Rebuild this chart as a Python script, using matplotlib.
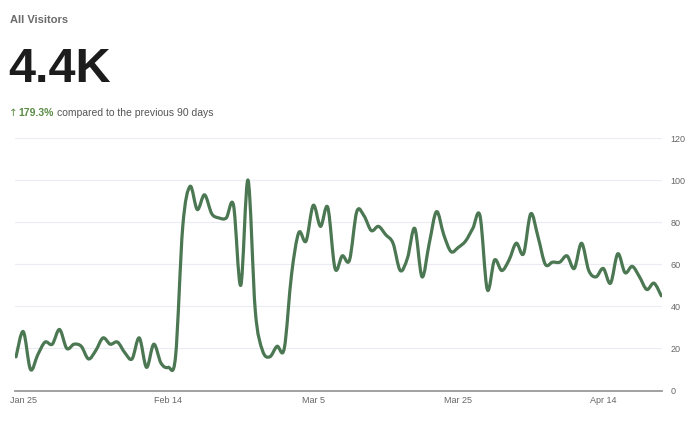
"""Visitors card: headline number plus a smoothed daily visitors line."""

import datetime as dt

import matplotlib

matplotlib.use("Agg")
import matplotlib.dates as mdates
import matplotlib.pyplot as plt
import numpy as np
from matplotlib.patches import PathPatch
from matplotlib.path import Path

plt.rcParams["font.family"] = ["Liberation Sans", "DejaVu Sans"]

START = dt.date(2024, 1, 24)
VISITORS = [
    16, 28, 10, 17, 23, 22, 29, 20, 22, 21,
    15, 19, 25, 22, 23, 18, 15, 25, 11, 22,
    13, 11, 16, 78, 97, 86, 93, 84, 82, 82,
    88, 50, 100, 38, 19, 16, 21, 20, 55, 75,
    71, 88, 78, 87, 58, 64, 62, 85, 83, 76,
    78, 74, 70, 57, 63, 77, 54, 70, 85, 74,
    66, 68, 71, 77, 83, 48, 62, 57, 62, 70,
    65, 84, 73, 60, 61, 61, 64, 58, 70, 57,
    54, 58, 51, 65, 56, 59, 54, 48, 51, 45,
]
TICK_DATES = [dt.date(2024, 1, 25), dt.date(2024, 2, 14), dt.date(2024, 3, 5),
              dt.date(2024, 3, 25), dt.date(2024, 4, 14)]
Y_TICKS = [0, 20, 40, 60, 80, 100, 120]
TITLE = "All Visitors"
TOTAL = "4.4K"
ARROW = "↑"
CHANGE = "179.3%"
CHANGE_NOTE = "compared to the previous 90 days"

LINE_COLOR = "#4b7752"
GREEN_TEXT = "#5a8a45"


def _spline_path(x: np.ndarray, y: np.ndarray) -> Path:
    # Catmull-Rom segments written as cubic Beziers, like a chart "spline" series.
    n = len(x)
    verts = [(x[0], y[0])]
    codes = [Path.MOVETO]
    for i in range(n - 1):
        x0, y0 = (x[i - 1], y[i - 1]) if i > 0 else (x[i], y[i])
        x3, y3 = (x[i + 2], y[i + 2]) if i + 2 < n else (x[i + 1], y[i + 1])
        c1 = (x[i] + (x[i + 1] - x0) / 6, y[i] + (y[i + 1] - y0) / 6)
        c2 = (x[i + 1] - (x3 - x[i]) / 6, y[i + 1] - (y3 - y[i]) / 6)
        verts += [c1, c2, (x[i + 1], y[i + 1])]
        codes += [Path.CURVE4] * 3
    return Path(verts, codes)


def main() -> int:
    fig = plt.figure(figsize=(7.0, 4.26), dpi=100)
    ax = fig.add_axes([15 / 700, 1 - 390.5 / 426, 647 / 700, 252.5 / 426])

    dates = [START + dt.timedelta(days=i) for i in range(len(VISITORS))]
    xs = mdates.date2num(dates)
    ys = np.asarray(VISITORS, dtype=float)

    patch = PathPatch(_spline_path(xs, ys), facecolor="none", edgecolor=LINE_COLOR,
                      linewidth=2.3, capstyle="round", joinstyle="round", zorder=3)
    ax.add_patch(patch)

    ax.set_xlim(xs[0] - 0.14, xs[-1] + 0.1)
    ax.set_ylim(0, 120)
    ax.set_xticks(mdates.date2num(TICK_DATES))
    ax.xaxis.set_major_formatter(mdates.DateFormatter("%b %-d"))
    ax.set_yticks(Y_TICKS)

    ax.yaxis.tick_right()
    ax.tick_params(axis="both", length=0, labelsize=6.5, labelcolor="#666666")
    ax.tick_params(axis="y", pad=6)
    ax.tick_params(axis="x", pad=4)
    ax.grid(axis="y", color="#ebebf3", linewidth=0.8)
    ax.set_axisbelow(True)
    for side in ("left", "right", "top"):
        ax.spines[side].set_visible(False)
    ax.spines["bottom"].set_color("#9a9a9a")
    ax.spines["bottom"].set_linewidth(1.3)

    fig.text(10 / 700, 1 - 20 / 426, TITLE, fontsize=8, fontweight="bold",
             color="#6b6b6b", va="center", ha="left")
    fig.text(8 / 700, 1 - 82 / 426, TOTAL, fontsize=35, fontweight="bold",
             color="#1c1c1c", va="baseline", ha="left")
    arrow = fig.text(9 / 700, 1 - 113 / 426, ARROW, fontsize=7.5, family="DejaVu Sans",
                     color=GREEN_TEXT, va="center", ha="left")
    change = ax.annotate(CHANGE, xy=(1, 0.5), xycoords=arrow, xytext=(0.5, 0),
                         textcoords="offset points", fontsize=7.5, fontweight="bold",
                         color=GREEN_TEXT, va="center", ha="left", annotation_clip=False)
    ax.annotate(CHANGE_NOTE, xy=(1, 0.5), xycoords=change, xytext=(2.5, 0),
                textcoords="offset points", fontsize=7.5, color="#555555",
                va="center", ha="left", annotation_clip=False)

    fig.savefig("out.png", dpi=100, facecolor="white")
    plt.close(fig)
    return 0


if __name__ == "__main__":
    raise SystemExit(main())
